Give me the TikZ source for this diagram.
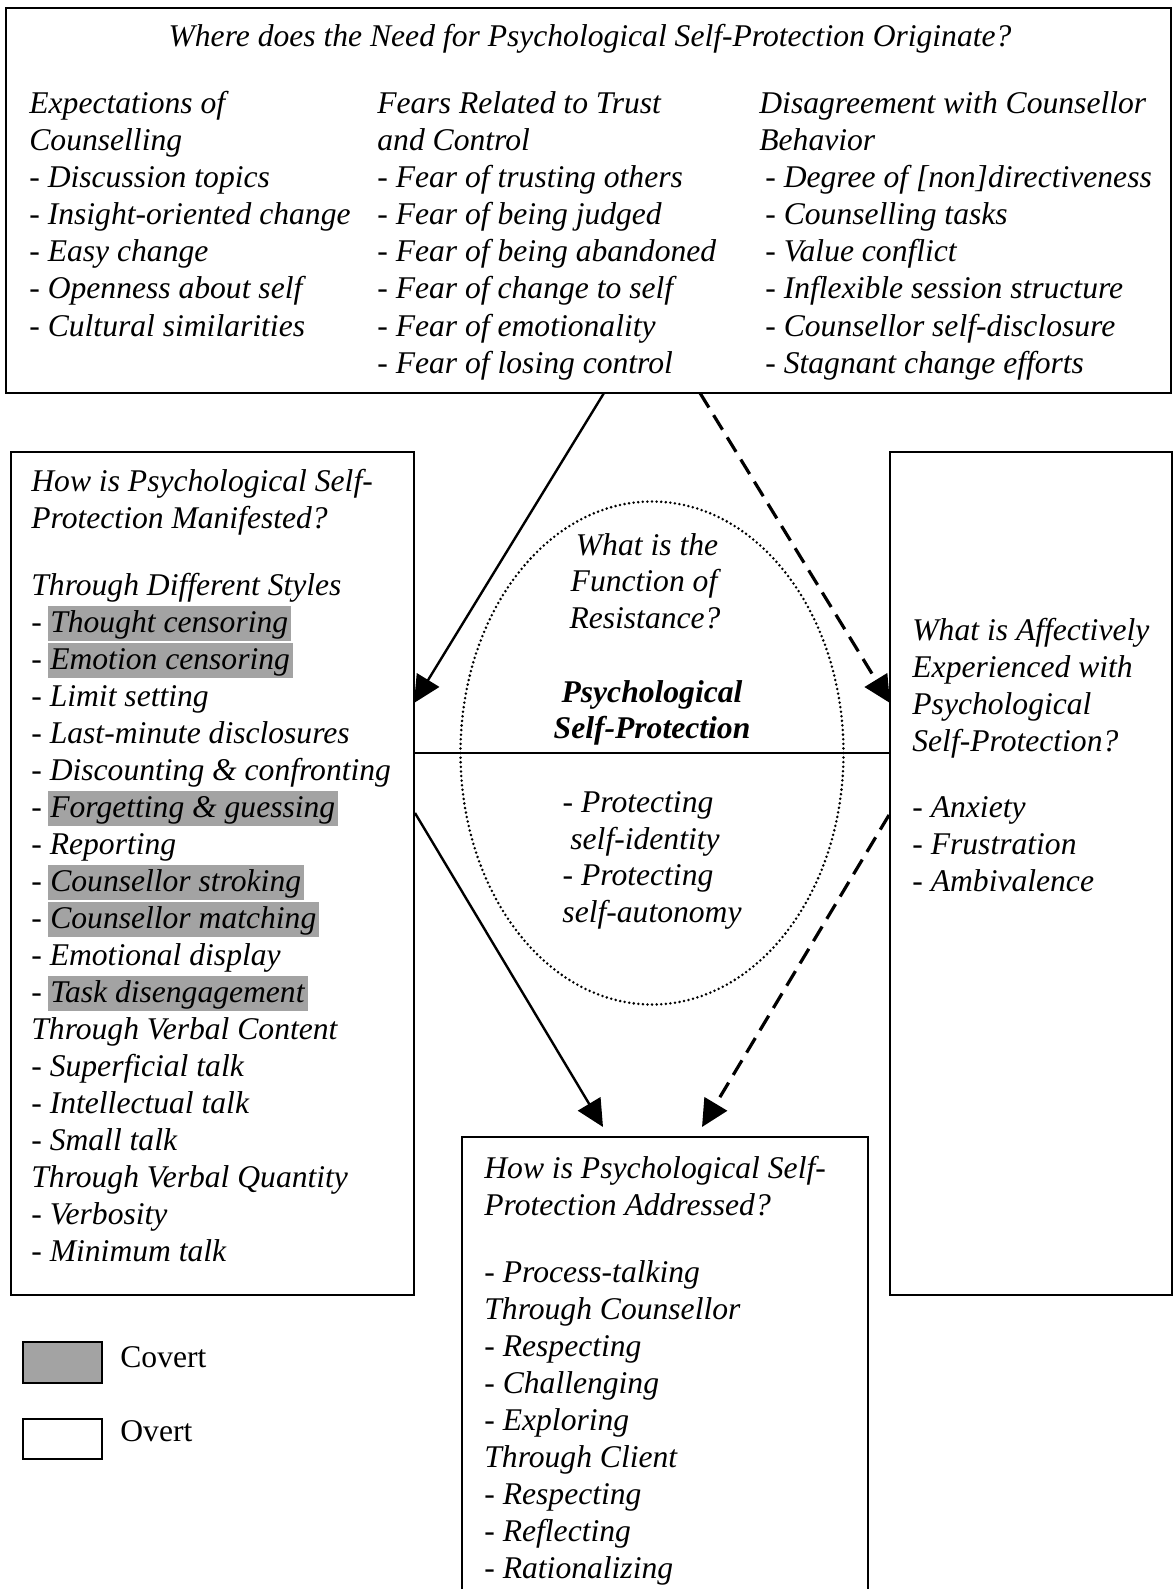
\documentclass[tikz,border=0pt]{standalone}
\usepackage{fontspec}
\setmainfont{Liberation Serif}
\usetikzlibrary{shapes.geometric,arrows.meta,calc,fit}
\definecolor{covgray}{rgb}{0.64,0.64,0.64}
\newcommand{\covbox}[1]{{\setlength{\fboxsep}{0pt}\colorbox{covgray}{\rule[-4.6pt]{0pt}{17.8pt}\kern1pt #1\kern1.5pt}}}
\newcommand{\cv}[1]{-\hspace{3.2pt}\covbox{#1}}
\begin{document}
\begin{tikzpicture}[x=0.5pt,y=-0.5pt,
  box/.style={draw, line width=0.9pt, inner sep=0pt, outer sep=0pt},
  txt/.style={anchor=base west, inner sep=0pt, font=\fontsize{15.8pt}{18.5pt}\selectfont\itshape},
  ctxt/.style={anchor=base, inner sep=0pt, font=\fontsize{15.8pt}{18.5pt}\selectfont\itshape},
  btxt/.style={anchor=base, inner sep=0pt, font=\fontsize{15.8pt}{18.5pt}\selectfont\bfseries\itshape},
  rtxt/.style={anchor=base west, inner sep=0pt, font=\fontsize{15.8pt}{18.5pt}\selectfont},
  solidarr/.style={line width=1.2pt, -{Triangle[length=13.5pt,width=13pt]}},
  dasharr/.style={line width=1.6pt, dash pattern=on 8.5pt off 4.5pt, -{Triangle[length=13.5pt,width=13pt]}},
  divider/.style={line width=1.1pt}]
\useasboundingbox (0,0) rectangle (1174,1589);
\fill[white] (0,0) rectangle (1174,1589);
\clip (0,0) rectangle (1174,1589);

% ---------- top box ----------
\node[box, fit={(6,8) (1171,393)}] (origin) {};
\node[ctxt] (ttitle) at (590,47) {Where does the Need for Psychological Self-Protection Originate?};
\foreach \t [count=\i] in {Expectations of, Counselling, - Discussion topics, - Insight-oriented change, - Easy change, - Openness about self, - Cultural similarities}
  \node[txt] (ca\i) at (29,{114+37*(\i-1)}) {\t};
\foreach \t [count=\i] in {Fears Related to Trust, and Control, - Fear of trusting others, - Fear of being judged, - Fear of being abandoned, - Fear of change to self, - Fear of emotionality, - Fear of losing control}
  \node[txt] (cb\i) at (377,{114+37*(\i-1)}) {\t};
\foreach \t [count=\i] in {Disagreement with Counsellor, Behavior}
  \node[txt] (cc\i) at (759,{114+37*(\i-1)}) {\t};
\foreach \t [count=\i] in {- Degree of [non]directiveness, - Counselling tasks, - Value conflict, - Inflexible session structure, - Counsellor self-disclosure, - Stagnant change efforts}
  \node[txt] (cd\i) at (765,{188+37*(\i-1)}) {\t};

% ---------- left box ----------
\node[box, fit={(11,452) (414,1295)}] (manif) {};
\node[txt] (m1) at (31,491) {How is Psychological Self-};
\node[txt] (m2) at (31,528) {Protection Manifested?};
\foreach \t [count=\i] in {Through Different Styles, \cv{Thought censoring}, \cv{Emotion censoring}, - Limit setting, - Last-minute disclosures, - Discounting \& confronting, \cv{Forgetting \& guessing}, - Reporting, \cv{Counsellor stroking}, \cv{Counsellor matching}, - Emotional display, \cv{Task disengagement}, Through Verbal Content, - Superficial talk, - Intellectual talk, - Small talk, Through Verbal Quantity, - Verbosity, - Minimum talk}
  \node[txt] (ml\i) at (31,{595+37*(\i-1)}) {\t};

% ---------- right box ----------
\node[box, fit={(890,452) (1172,1295)}] (affect) {};
\foreach \t [count=\i] in {What is Affectively, Experienced with, Psychological, Self-Protection?}
  \node[txt] (ah\i) at (912,{640+37*(\i-1)}) {\t};
\foreach \t [count=\i] in {- Anxiety, - Frustration, - Ambivalence}
  \node[txt] (al\i) at (912,{817+37*(\i-1)}) {\t};

% ---------- centre ----------
\node[draw, ellipse, line width=1.4pt, dash pattern=on 0pt off 2.3pt, line cap=round,
      minimum width=191.5pt, minimum height=251.5pt, inner sep=0pt] (func) at (652,753) {};
\node[ctxt] (f1) at (647,555) {What is the};
\node[ctxt] (f2) at (644,591) {Function of};
\node[ctxt] (f3) at (645,628) {Resistance?};
\node[btxt] (f4) at (652,702) {Psychological};
\node[btxt] (f5) at (652,738) {Self-Protection};
\node[ctxt] (f6) at (638,812) {- Protecting};
\node[ctxt] (f7) at (645,849) {self-identity};
\node[ctxt] (f8) at (638,885) {- Protecting};
\node[ctxt] (f9) at (652,922) {self-autonomy};

% ---------- bottom box ----------
\node[box, fit={(462,1137) (868,1600)}] (addr) {};
\node[txt] (b1) at (484,1178) {How is Psychological Self-};
\node[txt] (b2) at (484,1215) {Protection Addressed?};
\foreach \t [count=\i] in {- Process-talking, Through Counsellor, - Respecting, - Challenging, - Exploring, Through Client, - Respecting, - Reflecting, - Rationalizing}
  \node[txt] (bl\i) at (484,{1282+37*(\i-1)}) {\t};

% ---------- legend ----------
\node[draw, line width=0.8pt, fill=covgray, inner sep=0pt, outer sep=0pt, fit={(23,1342) (102,1383)}] (covkey) {};
\node[rtxt] (covlbl) at (120,1367) {Covert};
\node[draw, line width=0.8pt, inner sep=0pt, outer sep=0pt, fit={(23,1419) (102,1459)}] (ovkey) {};
\node[rtxt] (ovlbl) at (120,1441) {Overt};

% ---------- connectors ----------
\draw[divider] ($(manif.north east)+(0,301)$) -- ($(affect.north west)+(0,301)$);
\draw[solidarr] ($(origin.south west)+(598,0)$) -- ($(manif.north east)+(0,251)$);
\draw[dasharr] ($(origin.south west)+(694,0)$) -- ($(affect.north west)+(0,251)$);
\draw[solidarr] ($(manif.north east)+(1,361)$) -- ($(addr.north west)+(141,-10)$);
\draw[dasharr] ($(affect.north west)+(-1,363)$) -- ($(addr.north west)+(240,-10)$);
\end{tikzpicture}
\end{document}
